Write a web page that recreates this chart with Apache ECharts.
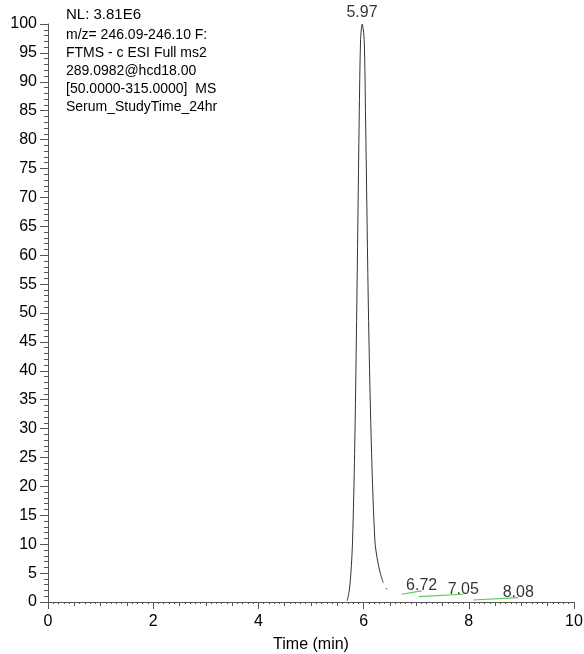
<!DOCTYPE html>
<html>
<head>
<meta charset="utf-8">
<script src="https://cdn.jsdelivr.net/npm/echarts@6/dist/echarts.min.js"></script>
<style>
  html, body { margin: 0; padding: 0; background: #fff; }
  #chart { width: 584px; height: 654px; }
</style>
</head>
<body>
<div id="chart"></div>
<script>
// main peak (black trace)
const peakTime = [5.688, 5.726, 5.758, 5.790, 5.829, 5.867, 5.916, 5.943, 5.973, 6.011, 6.038, 6.095, 6.152, 6.215, 6.266, 6.323, 6.373];
const peakIntensity = [0.2, 1.9, 4.9, 10.6, 25.7, 48.7, 83.4, 97.3, 100, 97.3, 83.4, 48.7, 25.7, 10.6, 7.1, 4.8, 3.35];
const tailTime = [6.43, 6.45];
const tailIntensity = [2.4, 2.2];

// small baseline peaks (green trace), one segment each
const greenTime = [[6.722, 7.103], [7.052, 7.894], [8.084, 8.94]];
const greenIntensity = [[1.34, 1.91], [0.92, 1.34], [0.35, 0.75]];

// peak labels: where they sit and what they say
const labelTime = [5.97, 7.103, 7.894, 8.94];
const labelIntensity = [100, 1.91, 1.34, 0.75];
const labelText = ['5.97', '6.72', '7.05', '8.08'];

const infoLines = ['m/z= 246.09-246.10 F:', 'FTMS - c ESI Full ms2', '289.0982@hcd18.00', '[50.0000-315.0000]  MS', 'Serum_StudyTime_24hr'];

const font = 'Liberation Sans, Arial, sans-serif';
const axisColor = '#555';

const zip = (xs, ys) => xs.map((x, i) => [x, ys[i]]);

const series = [
    {
        type: 'line',
        data: zip(peakTime, peakIntensity),
        smooth: 0.3,
        symbol: 'none',
        lineStyle: { color: '#333', width: 1 }
    },
    {
        type: 'line',
        data: zip(tailTime, tailIntensity),
        symbol: 'none',
        lineStyle: { color: '#333', width: 1 }
    }
];
greenTime.forEach((seg, i) => {
    series.push({
        type: 'line',
        data: zip(seg, greenIntensity[i]),
        symbol: 'none',
        lineStyle: { color: '#5cc65c', width: 1.2 }
    });
});
series.push({
    type: 'scatter',
    symbolSize: 0,
    data: labelTime.map((t, i) => ({
        value: [t, labelIntensity[i]],
        name: labelText[i],
        label: { distance: i === 0 ? 3 : -3 }
    })),
    label: {
        show: true,
        position: 'top',
        formatter: p => p.name,
        fontFamily: font,
        fontSize: 16,
        color: '#000'
    },
    silent: true
});

const graphicTexts = [{
    type: 'text', left: 66, top: 7,
    style: { text: 'NL: 3.81E6', font: '15px ' + font, fill: '#000' }
}];
infoLines.forEach((line, i) => {
    graphicTexts.push({
        type: 'text', left: 66, top: 28 + i * 18,
        style: { text: line, font: '14px ' + font, fill: '#000' }
    });
});

const chart = echarts.init(document.getElementById('chart'));
chart.setOption({
    animation: false,
    grid: { left: 48, right: 10, top: 24, bottom: 52, containLabel: false, outerBoundsMode: 'none' },
    xAxis: [
        {
            type: 'value', min: 0, max: 10, interval: 2,
            name: 'Time (min)', nameLocation: 'middle', nameGap: 35,
            nameTextStyle: { fontFamily: font, fontSize: 16, color: '#000' },
            axisLine: { lineStyle: { color: axisColor } },
            axisTick: { length: 7, lineStyle: { color: axisColor } },
            axisLabel: { margin: 12, fontFamily: font, fontSize: 16, color: '#000' },
            splitLine: { show: false }
        },
        {
            type: 'value', min: 0, max: 10, interval: 0.5, position: 'bottom',
            axisLine: { show: false },
            axisTick: { length: 4, lineStyle: { color: axisColor } },
            minorTick: { show: true, splitNumber: 5, length: 2, lineStyle: { color: axisColor } },
            axisLabel: { show: false },
            splitLine: { show: false }
        }
    ],
    yAxis: {
        type: 'value', min: 0, max: 100, interval: 5,
        axisLine: { show: true, lineStyle: { color: axisColor } },
        axisTick: { show: true, length: 8, lineStyle: { color: axisColor } },
        minorTick: { show: true, splitNumber: 5, length: 4, lineStyle: { color: axisColor } },
        axisLabel: { margin: 11, fontFamily: font, fontSize: 16, color: '#000' },
        splitLine: { show: false }
    },
    graphic: graphicTexts,
    series: series
});
</script>
</body>
</html>
